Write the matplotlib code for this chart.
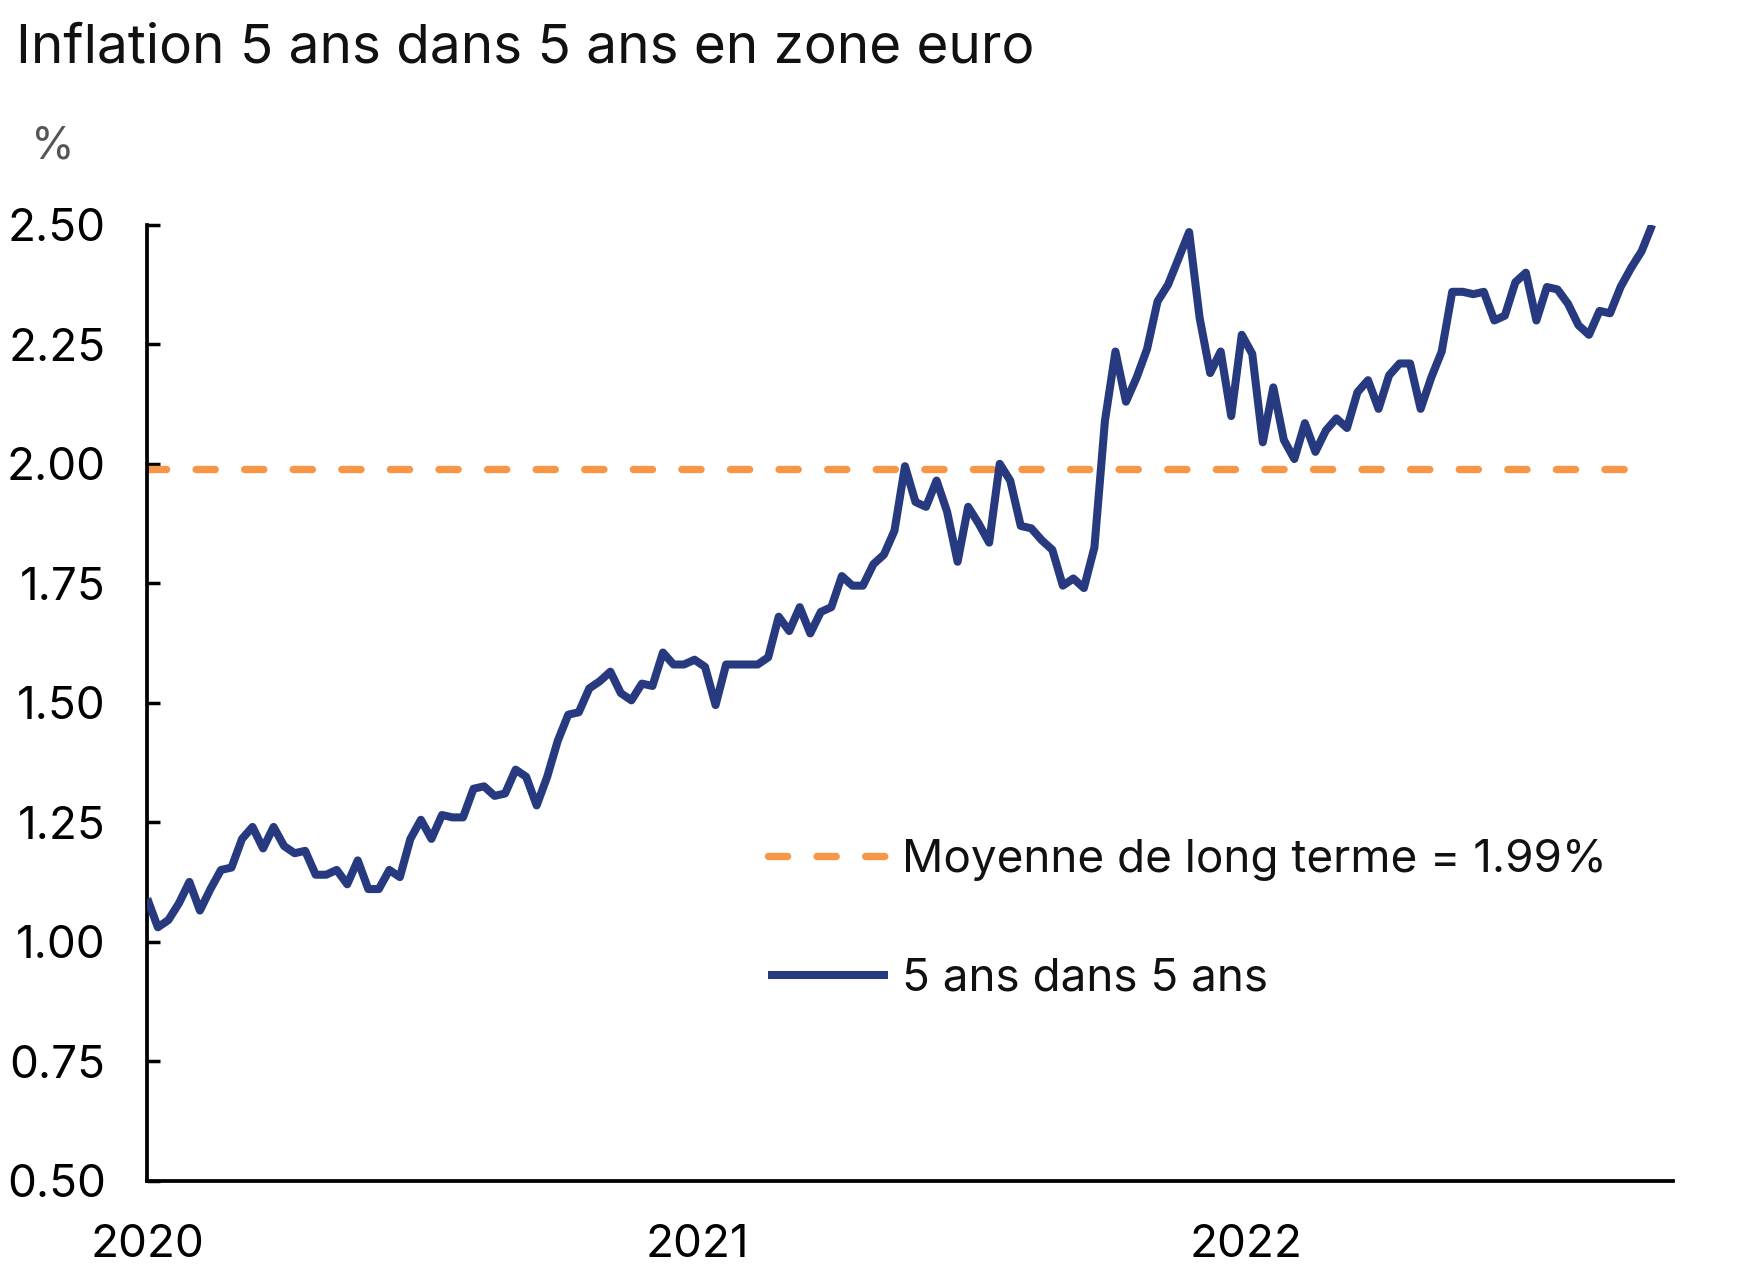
import matplotlib
matplotlib.use("Agg")
import matplotlib.pyplot as plt
import numpy as np
import pandas as pd

plt.rcParams['font.family'] = ['Inter', 'DejaVu Sans']

title = "Inflation 5 ans dans 5 ans en zone euro"
unit_label = "%"
series_label = "5 ans dans 5 ans"
mean_label = "Moyenne de long terme = 1.99%"
mean_value = 1.99
start_date = "2020-01-01"

values = [
    1.09, 1.03, 1.045, 1.08, 1.125, 1.065, 1.11, 1.15, 1.155, 1.215,
    1.24, 1.195, 1.24, 1.20, 1.185, 1.19, 1.14, 1.14, 1.15, 1.12,
    1.17, 1.11, 1.11, 1.15, 1.135, 1.215, 1.255, 1.215, 1.265, 1.26,
    1.26, 1.32, 1.325, 1.305, 1.31, 1.36, 1.345, 1.285, 1.345, 1.42,
    1.475, 1.48, 1.53, 1.545, 1.565, 1.52, 1.505, 1.54, 1.535, 1.605,
    1.58, 1.58, 1.59, 1.575, 1.495, 1.58, 1.58, 1.58, 1.58, 1.595,
    1.68, 1.65, 1.70, 1.645, 1.69, 1.70, 1.765, 1.745, 1.745, 1.79,
    1.81, 1.86, 1.995, 1.92, 1.91, 1.965, 1.90, 1.795, 1.91, 1.875,
    1.835, 2.00, 1.965, 1.87, 1.865, 1.84, 1.82, 1.745, 1.76, 1.74,
    1.825, 2.09, 2.235, 2.13, 2.18, 2.24, 2.34, 2.375, 2.43, 2.485,
    2.305, 2.19, 2.235, 2.10, 2.27, 2.23, 2.045, 2.16, 2.05, 2.01,
    2.085, 2.025, 2.07, 2.095, 2.075, 2.15, 2.175, 2.115, 2.185, 2.21,
    2.21, 2.115, 2.18, 2.235, 2.36, 2.36, 2.355, 2.36, 2.30, 2.31,
    2.38, 2.40, 2.30, 2.37, 2.365, 2.335, 2.29, 2.27, 2.32, 2.315,
    2.37, 2.41, 2.445, 2.50,
]

y_ticks = [0.50, 0.75, 1.00, 1.25, 1.50, 1.75, 2.00, 2.25, 2.50]
x_tick_years = ["2020", "2021", "2022"]

dates = pd.date_range(start_date, periods=len(values), freq="7D")

navy = "#273A80"
orange = "#F79646"

fig = plt.figure(figsize=(17.62, 12.75), dpi=100)
ax = fig.add_axes([0.0836, 0.0741, 0.866, 0.7495])

ax.plot(dates, [mean_value] * len(dates), color=orange, lw=5.3,
        dashes=(2.6, 4.0), dash_capstyle='round', label=mean_label, zorder=2)
ax.plot(dates, values, color=navy, lw=5.8, solid_joinstyle='round',
        solid_capstyle='butt', label=series_label, zorder=3)

ax.set_ylim(0.5, 2.5)
ax.set_xlim(pd.Timestamp("2020-01-01"), pd.Timestamp("2022-10-12"))
ax.set_yticks(y_ticks)
ax.set_yticklabels([f"{v:.2f}" for v in y_ticks])
ax.set_xticks([pd.Timestamp(f"{y}-01-01") for y in x_tick_years])
ax.set_xticklabels(x_tick_years)

for s in ["top", "right"]:
    ax.spines[s].set_visible(False)
for s in ["left", "bottom"]:
    ax.spines[s].set_linewidth(2.7)
    ax.spines[s].set_color("black")

ax.tick_params(axis='y', direction='in', length=9, width=2.5, pad=30,
               labelsize=33, colors='black')
ax.tick_params(axis='x', length=0, pad=31, labelsize=33, colors='black')

fig.text(0.009, 0.951, title, fontsize=39.5, ha='left', va='baseline', color='#111111')
fig.text(0.030, 0.885, unit_label, fontsize=32, ha='center', va='center', color='#555555')

leg = ax.legend(loc='upper left', bbox_to_anchor=(0.4359, 0.342),
                bbox_transform=fig.transFigure, frameon=False, fontsize=33,
                handlelength=2.62, handletextpad=0.3, labelspacing=1.68,
                borderpad=0, borderaxespad=0)
for t in leg.get_texts():
    t.set_color('#111111')

fig.savefig("out.png", dpi=100)
